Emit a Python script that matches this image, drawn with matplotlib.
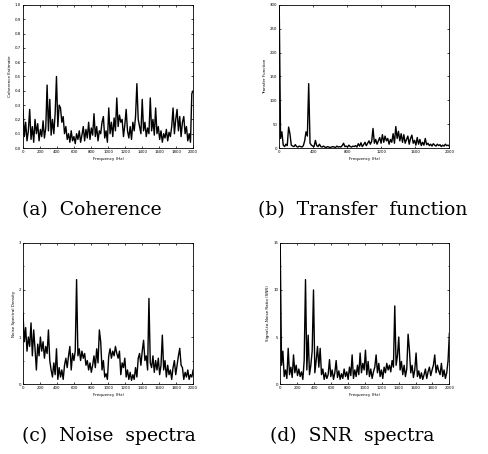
import numpy as np
import matplotlib
matplotlib.use("Agg")
import matplotlib.pyplot as plt
from matplotlib.ticker import MultipleLocator

# Frequency axis (Hz) shared by all four spectra
F_MAX = 2000.0

coherence = [
    0.27, 0.08, 0.18, 0.05, 0.12, 0.27, 0.06, 0.15, 0.04, 0.20, 0.10, 0.17, 0.05, 0.13, 0.08, 0.19,
    0.07, 0.14, 0.44, 0.12, 0.34, 0.09, 0.20, 0.10, 0.24, 0.50, 0.15, 0.30, 0.28, 0.18, 0.22, 0.10,
    0.15, 0.06, 0.10, 0.04, 0.12, 0.05, 0.08, 0.03, 0.10, 0.06, 0.12, 0.04, 0.09, 0.15, 0.05, 0.13,
    0.07, 0.18, 0.06, 0.14, 0.09, 0.24, 0.08, 0.15, 0.05, 0.12, 0.10, 0.18, 0.22, 0.07, 0.12, 0.04,
    0.28, 0.10, 0.18, 0.08, 0.21, 0.12, 0.35, 0.15, 0.23, 0.18, 0.20, 0.08, 0.16, 0.27, 0.12, 0.07,
    0.15, 0.06, 0.18, 0.12, 0.22, 0.45, 0.20, 0.15, 0.10, 0.34, 0.12, 0.18, 0.08, 0.14, 0.10, 0.35,
    0.12, 0.20, 0.09, 0.28, 0.10, 0.15, 0.06, 0.12, 0.04, 0.10, 0.07, 0.13, 0.05, 0.11, 0.08, 0.15,
    0.28, 0.10, 0.20, 0.27, 0.12, 0.22, 0.08, 0.18, 0.22, 0.10, 0.15, 0.05, 0.10, 0.04, 0.38, 0.40,
]

transfer = [
    300, 20, 34, 6, 3, 8, 5, 44, 30, 6, 4, 3, 7, 3, 2, 4,
    3, 2, 5, 15, 34, 25, 135, 10, 6, 4, 3, 16, 5, 3, 8, 3,
    2, 4, 2, 1, 3, 2, 1, 2, 3, 2, 1, 4, 2, 3, 2, 5,
    10, 3, 4, 2, 6, 3, 2, 4, 3, 5, 2, 9, 4, 11, 3, 7,
    12, 5, 10, 15, 8, 14, 41, 10, 18, 8, 15, 22, 10, 28, 12, 25,
    15, 20, 8, 18, 12, 30, 10, 45, 20, 35, 15, 30, 12, 28, 10, 18,
    25, 8, 20, 27, 10, 16, 6, 22, 8, 18, 5, 12, 6, 20, 7, 10,
    5, 8, 4, 9, 6, 4, 8, 5, 7, 3, 6, 4, 8, 5, 6, 4,
]

noise = [
    1.50, 0.90, 1.20, 0.70, 1.00, 0.80, 1.30, 0.60, 1.15, 0.75, 0.30, 0.85, 0.60, 1.00, 0.70, 0.90,
    0.55, 0.80, 0.65, 1.15, 0.50, 0.30, 0.15, 0.45, 0.20, 0.75, 0.10, 0.35, 0.15, 0.30, 0.10, 0.40,
    0.55, 0.35, 0.60, 0.80, 0.30, 0.65, 0.50, 0.70, 2.22, 0.60, 0.75, 0.50, 0.70, 0.55, 0.65, 0.40,
    0.50, 0.30, 0.45, 0.25, 0.40, 0.60, 0.35, 0.75, 0.45, 1.15, 0.90, 0.30, 0.50, 0.15, 0.22, 0.10,
    0.60, 0.75, 0.55, 0.70, 0.60, 0.80, 0.65, 0.55, 0.70, 0.20, 0.45, 0.35, 0.55, 0.15, 0.30, 0.10,
    0.25, 0.08, 0.20, 0.10, 0.35, 0.15, 0.55, 0.65, 0.40, 0.70, 0.93, 0.50, 0.60, 0.30, 1.82, 0.45,
    0.35, 0.60, 0.25, 0.50, 0.30, 0.55, 0.20, 0.40, 1.04, 0.30, 0.50, 0.15, 0.40, 0.20, 0.30, 0.10,
    0.35, 0.50, 0.20, 0.40, 0.60, 0.76, 0.40, 0.35, 0.10, 0.25, 0.15, 0.30, 0.10, 0.20, 0.15, 0.30,
]

snr = [
    15.0, 2.0, 3.5, 0.8, 1.5, 0.6, 3.8, 1.0, 1.8, 0.7, 3.1, 1.2, 2.0, 0.9, 1.6, 0.8,
    1.3, 0.5, 2.5, 11.1, 1.5, 5.2, 1.0, 2.0, 3.5, 10.0, 1.2, 2.5, 4.0, 1.8, 3.8, 1.0,
    1.6, 0.5, 1.2, 0.6, 1.0, 2.6, 0.8, 1.5, 0.5, 1.2, 2.5, 0.7, 1.4, 0.5, 1.1, 0.6,
    1.6, 0.8, 1.3, 0.5, 1.8, 0.9, 3.1, 0.6, 1.5, 0.8, 2.0, 1.0, 3.3, 1.2, 2.2, 1.5,
    3.6, 1.0, 2.4, 0.8, 1.6, 0.6, 1.3, 1.8, 3.1, 1.2, 2.2, 0.8, 1.5, 0.6, 1.8, 1.2,
    2.2, 1.5, 2.0, 1.3, 2.5, 1.8, 8.3, 2.0, 3.0, 5.0, 1.5, 2.4, 1.0, 2.0, 0.8, 1.6,
    5.3, 3.6, 1.2, 2.0, 0.7, 1.5, 3.3, 0.8, 1.4, 0.6, 1.2, 0.5, 1.0, 1.6, 0.6, 1.3,
    1.8, 0.9, 1.5, 2.0, 3.1, 1.2, 2.0, 1.4, 1.0, 2.2, 0.8, 1.5, 0.6, 1.2, 2.5, 5.4,
]

panels = [
    # values, ylabel, caption, ylim, y major, y minor, x step, axes rect
    (coherence, "Coherence Estimate", "(a)  Coherence", 1.0, 0.1, None, 200, [0.047, 0.674, 0.348, 0.315]),
    (transfer, "Transfer Function", "(b)  Transfer  function", 300, 50, None, 400, [0.571, 0.674, 0.348, 0.315]),
    (noise, "Noise Spectral Density", "(c)  Noise  spectra", 3.0, 1.0, 0.5, 200, [0.047, 0.154, 0.348, 0.311]),
    (snr, "Signal-to-Noise Ratio (SNR)", "(d)  SNR  spectra", 15, 5, 2.5, 200, [0.573, 0.154, 0.346, 0.311]),
]
caption_pos = [(0.045, 0.537), (0.527, 0.537), (0.045, 0.041), (0.552, 0.041)]

fig = plt.figure(figsize=(4.89, 4.54), dpi=100)

for (vals, ylab, cap, ymax, ymaj, ymin, xstep, rect), (cx, cy) in zip(panels, caption_pos):
    ax = fig.add_axes(rect)
    freq = np.linspace(0, F_MAX, len(vals))
    ax.plot(freq, vals, color="black", linewidth=1.0)
    ax.set_xlim(0, F_MAX)
    ax.set_ylim(0, ymax)
    ax.xaxis.set_major_locator(MultipleLocator(xstep))
    ax.yaxis.set_major_locator(MultipleLocator(ymaj))
    if ymin:
        ax.yaxis.set_minor_locator(MultipleLocator(ymin))
    ax.tick_params(which="both", direction="in", length=1.5, width=0.5,
                   labelsize=2.8, pad=1.5, top=True, right=True)
    ax.tick_params(which="minor", length=1.0)
    for s in ax.spines.values():
        s.set_linewidth(0.6)
    ax.set_xlabel("Frequency (Hz)", fontsize=3, labelpad=2)
    ax.set_ylabel(ylab, fontsize=3, labelpad=2)
    fig.text(cx, cy, cap, fontsize=13.5, family="DejaVu Serif", ha="left", va="center")

fig.savefig("out.png", dpi=100)
